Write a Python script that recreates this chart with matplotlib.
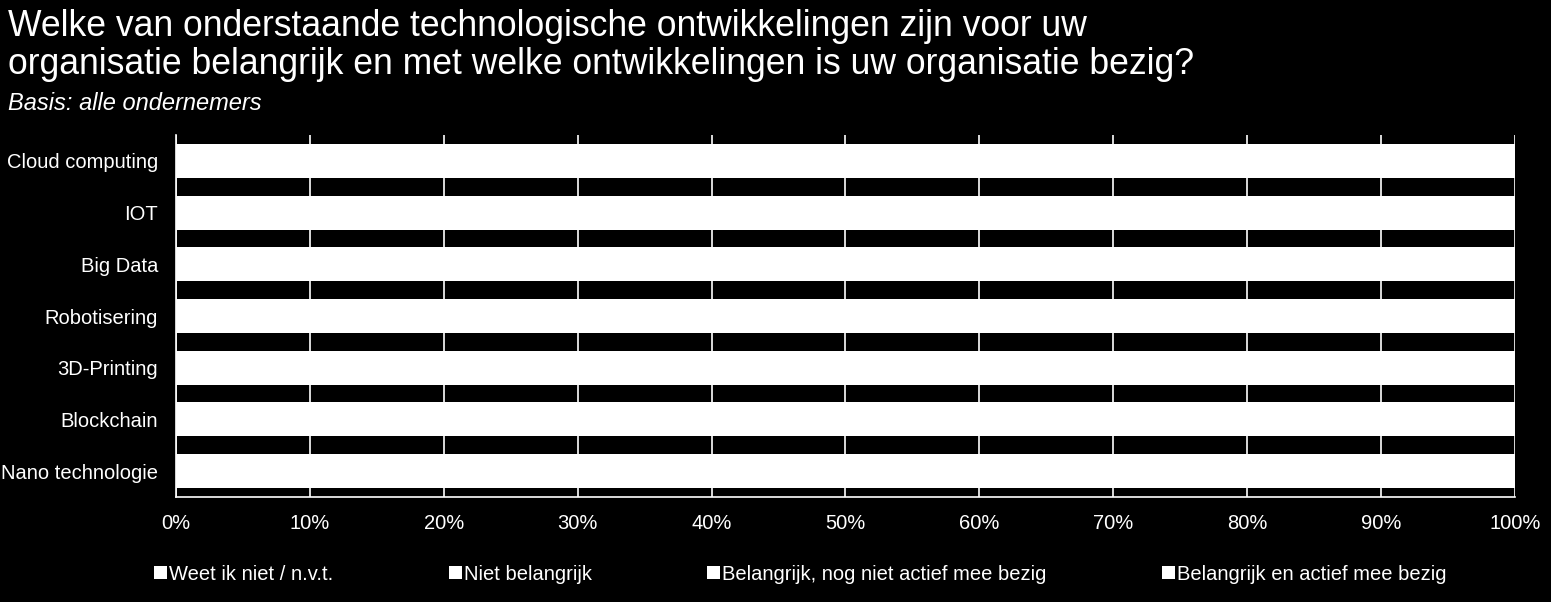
import matplotlib
matplotlib.use("Agg")
import matplotlib.pyplot as plt
from matplotlib.patches import Patch

FONT = "Liberation Sans"

TITLE = ("Welke van onderstaande technologische ontwikkelingen zijn voor uw\n"
         "organisatie belangrijk en met welke ontwikkelingen is uw organisatie bezig?")
SUBTITLE = "Basis: alle ondernemers"

categories = ["Cloud computing", "IOT", "Big Data", "Robotisering",
              "3D-Printing", "Blockchain", "Nano technologie"]
series = ["Weet ik niet / n.v.t.", "Niet belangrijk",
          "Belangrijk, nog niet actief mee bezig", "Belangrijk en actief mee bezig"]
# segment shares (all segments are drawn white in the source, so the splits are not visible)
weet_niet = [8, 14, 12, 10, 9, 22, 20]
niet_belangrijk = [22, 36, 40, 48, 60, 52, 62]
nog_niet_actief = [20, 28, 30, 24, 21, 20, 13]
actief = [50, 22, 18, 18, 10, 6, 5]
values = [weet_niet, niet_belangrijk, nog_niet_actief, actief]

plt.rcParams["font.family"] = [FONT, "DejaVu Sans"]

fig = plt.figure(figsize=(15.51, 6.02), dpi=100, facecolor="black")
ax = fig.add_axes([176 / 1551, 1 - 497 / 602, (1515 - 176) / 1551, (497 - 135) / 602])
ax.set_facecolor("black")

ypos = list(range(len(categories)))
left = [0] * len(categories)
for name, vals in zip(series, values):
    ax.barh(ypos, vals, left=left, height=0.66, color="white", edgecolor="none",
            label=name, zorder=3)
    left = [a + b for a, b in zip(left, vals)]

ax.set_xlim(0, 100)
ax.set_ylim(len(categories) - 0.5, -0.5)
ax.set_xticks(range(0, 101, 10))
ax.set_xticklabels([f"{t}%" for t in range(0, 101, 10)], fontsize=14.5, color="white")
ax.set_yticks(ypos)
ax.set_yticklabels(categories, fontsize=14.5, color="white")
ax.tick_params(axis="x", length=0, pad=12)
ax.tick_params(axis="y", length=0, pad=13)
ax.grid(axis="x", color="white", linewidth=1.2, zorder=1)
for s in ["top", "right"]:
    ax.spines[s].set_visible(False)
for s in ["left", "bottom"]:
    ax.spines[s].set_color("white")
    ax.spines[s].set_linewidth(1.2)

fig.text(8 / 1551, 1 - 9 / 602, TITLE, fontsize=25.6, color="white",
         ha="left", va="top", linespacing=1.12)
fig.text(8 / 1551, 1 - 104 / 602, SUBTITLE, fontsize=17, style="italic", color="white",
         ha="left", va="center")

handles = [Patch(facecolor="white", edgecolor="none") for _ in series]
fig.legend(handles, series, loc="center left", bbox_to_anchor=(136 / 1551, 1 - 574 / 602),
           ncol=4, frameon=False, handlelength=0.65, handleheight=0.65, handletextpad=0.08,
           columnspacing=5.75, prop={"size": 14.5}, labelcolor="white")

fig.savefig("out.png", dpi=100, facecolor="black")
